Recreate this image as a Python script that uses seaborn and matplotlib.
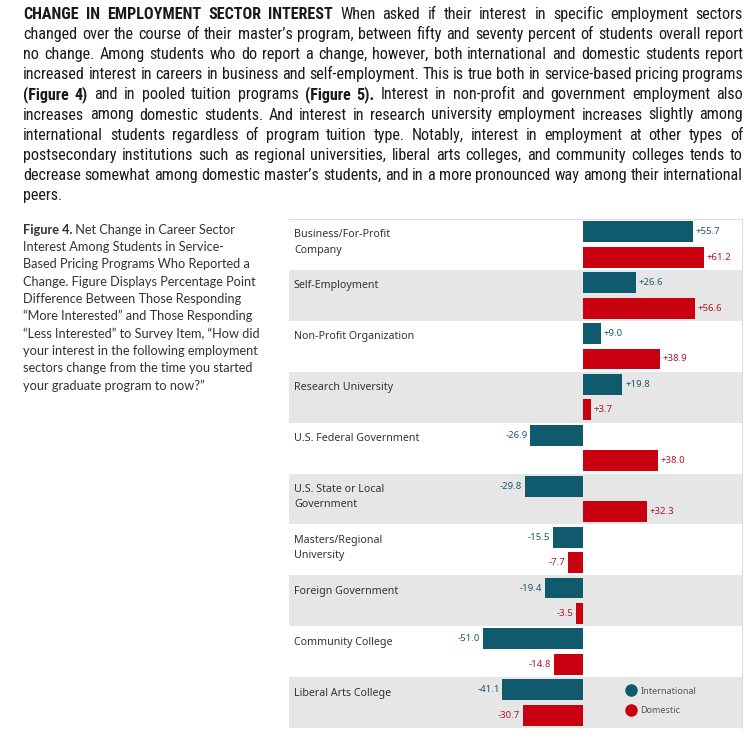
import pandas as pd
import matplotlib.pyplot as plt
import seaborn as sns
import numpy as np
from matplotlib import font_manager
from matplotlib.lines import Line2D

W, H = 755, 744

# Dati del grafico
sectors = ["Business/For-Profit\nCompany", "Self-Employment", "Non-Profit Organization",
           "Research University", "U.S. Federal Government", "U.S. State or Local\nGovernment",
           "Masters/Regional\nUniversity", "Foreign Government", "Community College",
           "Liberal Arts College"]
international = [55.7, 26.6, 9.0, 19.8, -26.9, -29.8, -15.5, -19.4, -51.0, -41.1]
domestic = [61.2, 56.6, 38.9, 3.7, 38.0, 32.3, -7.7, -3.5, -14.8, -30.7]
groups = ["International", "Domestic"]

paragraph = [
    "**CHANGE IN EMPLOYMENT SECTOR INTEREST** When asked if their interest in specific employment sectors",
    "changed over the course of their master\u2019s program, between fifty and seventy percent of students overall report",
    "no change. Among students who do report a change, however, both international and domestic students report",
    "increased interest in careers in business and self-employment. This is true both in service-based pricing programs",
    "**(Figure 4)** and in pooled tuition programs **(Figure 5).** Interest in non-profit and government employment also",
    "increases among domestic students. And interest in research university employment increases slightly among",
    "international students regardless of program tuition type. Notably, interest in employment at other types of",
    "postsecondary institutions such as regional universities, liberal arts colleges, and community colleges tends to",
    "decrease somewhat among domestic master\u2019s students, and in a more pronounced way among their international",
    "peers.",
]

caption = [
    "**Figure 4.** Net Change in Career Sector",
    "Interest Among Students in Service-",
    "Based Pricing Programs Who Reported a",
    "Change. Figure Displays Percentage Point",
    "Difference Between Those Responding",
    "\u201cMore Interested\u201d and Those Responding",
    "\u201cLess Interested\u201d to Survey Item, \u201cHow did",
    "your interest in the following employment",
    "sectors change from the time you started",
    "your graduate program to now?\u201d",
]

df = pd.DataFrame({
    "sector": sectors * 2,
    "group": [groups[0]] * len(sectors) + [groups[1]] * len(sectors),
    "value": international + domestic,
})

sns.set_theme(style="white")
plt.rcParams['figure.dpi'] = 100

names = {f.name for f in font_manager.fontManager.ttflist}
body_font = "DejaVu Sans"
for f in ["Liberation Sans Narrow", "Roboto Condensed", "Open Sans Condensed", "Liberation Sans"]:
    if f in names:
        body_font = f
        break

teal = "#0f5b6d"
red = "#c8000f"

fig = plt.figure(figsize=(W / 100, H / 100), facecolor="white")
renderer = fig.canvas.get_renderer()


def parse(line):
    words = []
    for k, seg in enumerate(line.split("**")):
        for w in seg.split():
            words.append((w, k % 2 == 1))
    return words


def measure(words, size, family):
    out = []
    for w, b in words:
        t = fig.text(0, 0, w, fontsize=size, family=family, weight="bold" if b else "normal")
        out.append(t.get_window_extent(renderer).width)
        t.remove()
    return out


def fit_size(lines, width, size, family):
    # taglia del font per cui la riga più lunga riempie la larghezza
    sp = measure([(" ", False)], size, family)[0]
    best = 0
    for line in lines[:-1]:
        words = parse(line)
        nat = sum(measure(words, size, family)) + sp * (len(words) - 1)
        best = max(best, nat)
    return size * width / best


def draw_justified(lines, x0, x1, base0, dy, size, family, color):
    for i, line in enumerate(lines):
        words = parse(line)
        y = 1 - (base0 + i * dy) / H
        texts = [fig.text(0, y, w, fontsize=size, family=family, color=color,
                          weight="bold" if b else "normal", va="baseline")
                 for w, b in words]
        widths = [t.get_window_extent(renderer).width for t in texts]
        space = size * 0.25 * 100 / 72
        if i < len(lines) - 1 and len(words) > 1:
            space = (x1 - x0 - sum(widths)) / (len(words) - 1)
        x = x0
        for t, w in zip(texts, widths):
            t.set_x(x / W)
            x += w + space


def draw_left(lines, x0, base0, dy, size, family, color):
    for i, line in enumerate(lines):
        y = 1 - (base0 + i * dy) / H
        x = x0
        for k, seg in enumerate(line.split("**")):
            if not seg:
                continue
            t = fig.text(x / W, y, seg, fontsize=size, family=family, color=color,
                         weight="bold" if k % 2 else "normal", va="baseline")
            x += t.get_window_extent(renderer).width


body_size = min(fit_size(paragraph, 720, 11, body_font), 12.5)
draw_justified(paragraph, 23, 743, 19, 20.1, body_size, body_font, "#1a1a1a")
draw_left(caption, 23, 233.5, 17.35, 9.2, "Lato", "#333333")

# Grafico a barre
ax = fig.add_axes([289 / W, 1 - 728 / H, (742 - 289) / W, (728 - 219) / H])
for i in range(len(sectors)):
    if i % 2 == 1:
        ax.axhspan(i - 0.5, i + 0.5, color="#e6e6e6", lw=0, zorder=0)

sns.barplot(data=df, y="sector", x="value", hue="group", order=sectors, hue_order=groups,
            palette=[teal, red], orient="h", width=1.0, gap=0.18, saturation=1,
            legend=False, ax=ax, zorder=2, linewidth=0)

for cont, col in zip(ax.containers, ["#1b5a6b", "#b3162a"]):
    ax.bar_label(cont, fmt="{:+.1f}", padding=2, fontsize=6.9, color=col, family="Noto Sans")

for i, s in enumerate(sectors):
    ax.text(0.011, i - 0.5 + 0.205, s, transform=ax.get_yaxis_transform(), ha="left", va="top",
            fontsize=7.7, family="Noto Sans", color="#333333", linespacing=1.55)

ax.set_xlim((289 - 583.3) / 1.968, (742 - 583.3) / 1.968)
ax.set_ylim(len(sectors) - 0.5, -0.5)
ax.set_xticks([])
ax.set_yticks([])
ax.set_xlabel("")
ax.set_ylabel("")
for side in ["left", "bottom"]:
    ax.spines[side].set_visible(False)
for side in ["top", "right"]:
    ax.spines[side].set_color("#dddddd")
    ax.spines[side].set_linewidth(0.8)

handles = [Line2D([], [], marker="o", ls="", color=c, markersize=8) for c in [teal, red]]
leg = fig.legend(handles, groups, loc="upper left", bbox_to_anchor=(617 / W, 1 - 682 / H),
                 frameon=False, handletextpad=0.1, labelspacing=1.2, borderpad=0,
                 prop={"family": "Noto Sans", "size": 6.5})
for t in leg.get_texts():
    t.set_color("#555555")

fig.savefig("out.png", dpi=100, facecolor="white")
